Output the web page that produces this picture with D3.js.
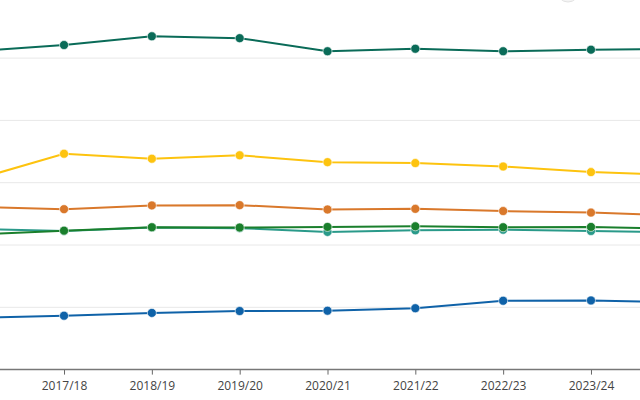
<!DOCTYPE html>
<html>
<head>
<meta charset="utf-8">
<script src="https://cdn.jsdelivr.net/npm/d3@7"></script>
<style>
  html, body { margin: 0; padding: 0; background: #fff; overflow: hidden; }
  svg { display: block; font-family: "Open Sans", "Noto Sans", sans-serif; }
</style>
</head>
<body>
<svg id="chart" width="640" height="400"></svg>
<script>
const categories = ["2016/17", "2017/18", "2018/19", "2019/20", "2020/21", "2021/22", "2022/23", "2023/24", "2024/25"];
const tickLabels = ["2017/18", "2018/19", "2019/20", "2020/21", "2021/22", "2022/23", "2023/24"];
const gridValues = [0, 10, 20, 30, 40, 50, 60];

const seriesDarkTeal = [51.1, 52.1, 53.5, 53.2, 51.1, 51.5, 51.1, 51.35, 51.45];
const seriesYellow   = [30.55, 34.65, 33.85, 34.4, 33.3, 33.15, 32.6, 31.7, 31.2];
const seriesOrange   = [26.1, 25.75, 26.35, 26.4, 25.7, 25.8, 25.45, 25.2, 24.75];
const seriesGreen    = [21.7, 22.3, 22.85, 22.8, 22.9, 23.0, 22.85, 22.9, 22.6];
const seriesTeal     = [22.6, 22.25, 22.8, 22.7, 22.1, 22.35, 22.45, 22.25, 22.05];
const seriesBlue     = [8.3, 8.65, 9.1, 9.4, 9.45, 9.85, 11.05, 11.1, 10.8];

const series = [
  { values: seriesBlue, color: "#0f62a8" },
  { values: seriesTeal, color: "#2a9a8a" },
  { values: seriesGreen, color: "#1a7f2c" },
  { values: seriesOrange, color: "#d9782b" },
  { values: seriesYellow, color: "#fdc30f" },
  { values: seriesDarkTeal, color: "#0a6b58" }
];

const svg = d3.select("#chart");

const x = d3.scalePoint().domain(categories).range([-23.8, 678.8]);
const y = d3.scaleLinear().domain([0, 50]).range([369.6, 58.1]);

// gridlines
svg.append("g").selectAll("line")
  .data(gridValues.filter(v => v > 0))
  .join("line")
  .attr("x1", 0).attr("x2", 640)
  .attr("y1", d => y(d)).attr("y2", d => y(d))
  .attr("stroke", "#e8e8e8").attr("stroke-width", 1);

// x axis
const xAxis = d3.axisBottom(x).tickValues(tickLabels).tickSize(5).tickSizeOuter(0);
const gx = svg.append("g").attr("transform", `translate(0,${y(0)})`).call(xAxis);
gx.select(".domain").remove();
gx.append("line").attr("x1", 0).attr("x2", 640).attr("y1", 0).attr("y2", 0)
  .attr("stroke", "#777").attr("stroke-width", 1.5);
gx.selectAll(".tick line").attr("stroke", "#666").attr("stroke-width", 1);
gx.selectAll(".tick text").attr("fill", "#444").attr("font-size", 12)
  .attr("font-family", "'Open Sans', sans-serif").attr("dy", "1.05em");

// lines + markers
const line = d3.line().x((d, i) => x(categories[i])).y(d => y(d));
series.forEach(s => {
  const g = svg.append("g");
  g.append("path").datum(s.values)
    .attr("d", line).attr("fill", "none")
    .attr("stroke", s.color).attr("stroke-width", 2);
  g.selectAll("circle").data(s.values).join("circle")
    .attr("cx", (d, i) => x(categories[i]))
    .attr("cy", d => y(d))
    .attr("r", 4.5)
    .attr("fill", s.color)
    .attr("stroke", "#fff").attr("stroke-width", 0.6);
});

// faint partial circle at top edge
svg.append("circle").attr("cx", 568).attr("cy", -9).attr("r", 11)
  .attr("fill", "#f4f4f4").attr("stroke", "#e2e2e2").attr("stroke-width", 1);
</script>
</body>
</html>
